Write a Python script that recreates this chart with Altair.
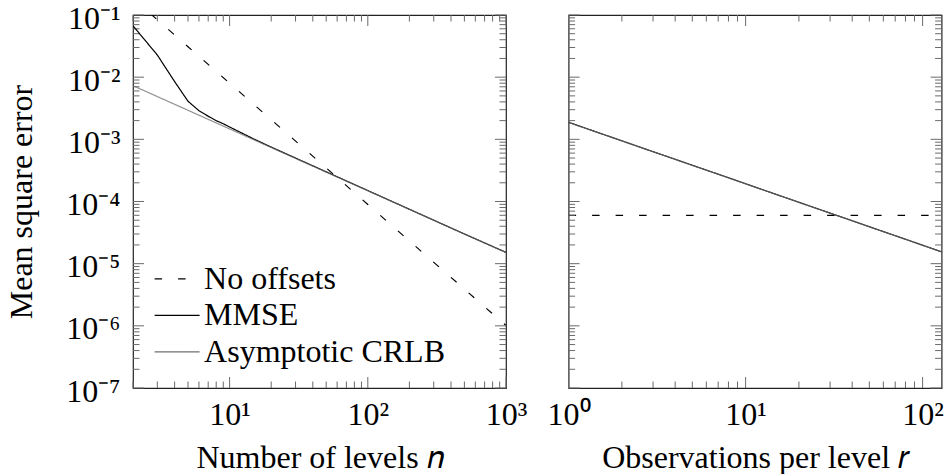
import altair as alt
import pandas as pd

# ---------------- data ----------------
series = ["No offsets", "MMSE", "Asymptotic CRLB"]

# Left panel: Number of levels n
n_nooff = [2, 3, 5, 10, 20, 50, 100, 200, 500, 1000]
mse_nooff = [0.185, 0.0838, 0.0309, 8.0e-3, 2.07e-3, 3.47e-4, 8.97e-5, 2.32e-5, 3.89e-6, 1.01e-6]

n_mmse = [2, 3, 4, 5, 6, 7, 8, 9, 10, 15, 20, 50, 100, 200, 500, 1000]
mse_mmse = [0.067, 0.0227, 0.0085, 0.0041, 0.00289, 0.00235, 0.00200, 0.00178, 0.00158,
            0.00101, 0.00075, 3.0e-4, 1.50e-4, 7.5e-5, 3.0e-5, 1.52e-5]

n_crlb = [2, 10, 100, 1000]
mse_crlb = [7.3e-3, 1.47e-3, 1.49e-4, 1.51e-5]

# Right panel: Observations per level r
r_nooff = [1, 128]
mse_r_nooff = [6.0e-5, 6.0e-5]

r_vals = [1, 2, 4, 8, 16, 32, 64, 128]
mse_r_mmse = [1.88e-3, 9.45e-4, 4.77e-4, 2.41e-4, 1.21e-4, 6.11e-5, 3.08e-5, 1.55e-5]
mse_r_crlb = [1.87e-3, 9.44e-4, 4.76e-4, 2.40e-4, 1.21e-4, 6.10e-5, 3.07e-5, 1.55e-5]

# tick values (major ticks carry labels)
y_major = [1e-7, 1e-6, 1e-5, 1e-4, 1e-3, 1e-2, 1e-1]
y_minor = [m * 10.0 ** k for k in range(-7, -1) for m in range(2, 10)]
x_left_major = [10, 100, 1000]
x_left_minor = [m * 10 ** k for k in range(0, 3) for m in range(2, 10)]
x_right_major = [1, 10, 100]
x_right_minor = [m * 10 ** k for k in range(0, 2) for m in range(2, 10)]

# ---------------- style ----------------
FONT = "Liberation Serif"
FS = 32
W = 373
H = 373
MAJ_LEN = 11
MIN_LEN = 6.5
TICK_COLOR = "#6a6a6a"

xs_left = alt.Scale(type="log", domain=[2, 1000], nice=False)
xs_right = alt.Scale(type="log", domain=[1, 128], nice=False)
ys = alt.Scale(type="log", domain=[1e-7, 1e-1], nice=False)

SUP = "['⁰','¹','²','³','⁴','⁵','⁶','⁷','⁸','⁹']"
x_label_expr = "'10' + " + SUP + "[round(log(datum.value)/LN10)]"
y_label_expr = "'10⁻' + " + SUP + "[round(-log(datum.value)/LN10)]"


def label_x(values, title):
    return alt.Axis(orient="bottom", values=values, labelExpr=x_label_expr,
                    ticks=False, tickSize=0, domain=False, grid=False,
                    labelFont=FONT, labelFontSize=FS, labelColor="black",
                    labelPadding=11, labelFlush=False, labelOverlap=False,
                    title=title, titleFont=FONT, titleFontSize=FS,
                    titleFontWeight="normal", titleColor="black", titlePadding=12)


def label_y(title):
    return alt.Axis(orient="left", values=y_major, labelExpr=y_label_expr,
                    ticks=False, tickSize=0, domain=False, grid=False,
                    labelFont=FONT, labelFontSize=FS, labelColor="black",
                    labelPadding=13, labelOffset=3, labelFlush=False, labelOverlap=False,
                    title=title, titleFont=FONT, titleFontSize=FS,
                    titleFontWeight="normal", titleColor="black", titlePadding=27)


def x_ticks(values, scale, length):
    df = pd.DataFrame({"v": values})
    base = alt.Chart(df).mark_rule(color=TICK_COLOR, strokeWidth=1)
    bottom = base.encode(x=alt.X("v:Q", scale=scale, axis=None),
                         y=alt.value(H), y2=alt.value(H - length))
    top = base.encode(x=alt.X("v:Q", scale=scale, axis=None),
                      y=alt.value(0), y2=alt.value(length))
    return [bottom, top]


def y_ticks(values, length):
    df = pd.DataFrame({"v": values})
    base = alt.Chart(df).mark_rule(color=TICK_COLOR, strokeWidth=1)
    left = base.encode(y=alt.Y("v:Q", scale=ys, axis=None),
                       x=alt.value(0), x2=alt.value(length))
    right = base.encode(y=alt.Y("v:Q", scale=ys, axis=None),
                        x=alt.value(W), x2=alt.value(W - length))
    return [left, right]


color_scale = alt.Scale(domain=series, range=["black", "black", "#6e6e6e"])
dash_scale = alt.Scale(domain=series, range=[[7.5, 16], [1, 0], [1, 0]])
legend = alt.Legend(orient="none", legendX=20.6, legendY=247.8, title=None,
                    labelFont=FONT, labelFontSize=FS, labelColor="black",
                    labelLimit=400, symbolType="stroke", symbolSize=2025,
                    symbolStrokeWidth=1.2, clipHeight=32, rowPadding=4.5,
                    labelOffset=3.5, padding=0)


def left_layer(x, y, name, xa=None, ya=None, opacity=1.0):
    df = pd.DataFrame({"n": x, "mse": y, "series": name})
    return alt.Chart(df).mark_line(clip=True, strokeWidth=1.2, opacity=opacity).encode(
        x=alt.X("n:Q", scale=xs_left, axis=xa),
        y=alt.Y("mse:Q", scale=ys, axis=ya),
        color=alt.Color("series:N", scale=color_scale, legend=legend),
        strokeDash=alt.StrokeDash("series:N", scale=dash_scale, legend=legend),
    )


def right_layer(x, y, color, dash, xa=None, opacity=1.0):
    df = pd.DataFrame({"r": x, "mse": y})
    return alt.Chart(df).mark_line(clip=True, strokeWidth=1.2, opacity=opacity,
                                   color=color, strokeDash=dash).encode(
        x=alt.X("r:Q", scale=xs_right, axis=xa),
        y=alt.Y("mse:Q", scale=ys, axis=None),
    )


left_ticks = (x_ticks(x_left_major, xs_left, MAJ_LEN) + x_ticks(x_left_minor, xs_left, MIN_LEN)
              + y_ticks(y_major, MAJ_LEN) + y_ticks(y_minor, MIN_LEN))
right_ticks = (x_ticks(x_right_major, xs_right, MAJ_LEN) + x_ticks(x_right_minor, xs_right, MIN_LEN)
               + y_ticks(y_major, MAJ_LEN) + y_ticks(y_minor, MIN_LEN))

left = alt.layer(
    left_layer(n_nooff, mse_nooff, "No offsets",
               label_x(x_left_major, "Number of levels 𝑛"), label_y("Mean square error")),
    *left_ticks,
    left_layer(n_mmse, mse_mmse, "MMSE"),
    left_layer(n_crlb, mse_crlb, "Asymptotic CRLB", opacity=0.75),
).resolve_axis(x="independent", y="independent").properties(width=W, height=H)

right = alt.layer(
    right_layer(r_nooff, mse_r_nooff, "black", [7.5, 16],
                xa=label_x(x_right_major, "Observations per level 𝑟")),
    *right_ticks,
    right_layer(r_vals, mse_r_mmse, "black", [1, 0]),
    right_layer(r_vals, mse_r_crlb, "#6e6e6e", [1, 0], opacity=0.75),
).resolve_axis(x="independent", y="independent").properties(width=W, height=H)

chart = alt.hconcat(left, right, spacing=62.6, bounds="flush").resolve_scale(
    color="independent", strokeDash="independent"
).resolve_legend(
    color="independent", strokeDash="independent"
).configure_view(stroke="#222222", strokeWidth=1.2).properties(
    padding={"left": 5, "top": 1, "right": 0, "bottom": 0}
)

chart.save("out.html", embed_options={"renderer": "svg", "actions": False})
